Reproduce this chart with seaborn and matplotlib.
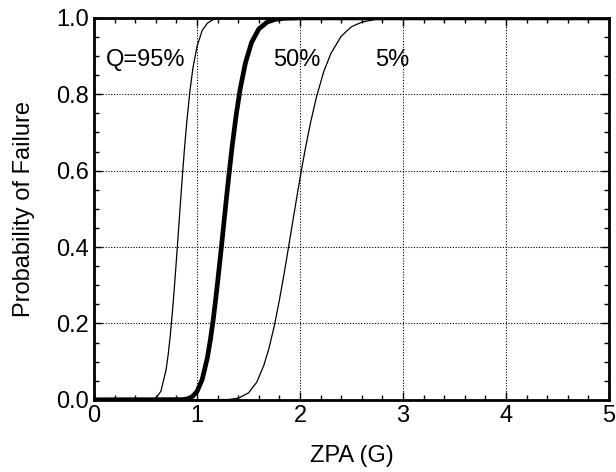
import numpy as np
import pandas as pd
import matplotlib
matplotlib.use("Agg")
import matplotlib.pyplot as plt
import seaborn as sns
from matplotlib.ticker import MultipleLocator

# Data (ZPA in G, probability of failure)
x_q95 = [0.0, 0.55, 0.60, 0.65, 0.70, 0.72, 0.74, 0.76, 0.78, 0.80, 0.82, 0.84, 0.86, 0.88,
         0.90, 0.93, 0.96, 1.00, 1.05, 1.10, 1.15, 1.20, 1.30, 5.0]
p_q95 = [0.0, 0.0004, 0.0041, 0.0225, 0.079, 0.118, 0.167, 0.226, 0.293, 0.366, 0.442, 0.519,
         0.593, 0.663, 0.725, 0.806, 0.868, 0.925, 0.967, 0.986, 0.9948, 0.9981, 0.9998, 1.0]

x_q50 = [0.0, 0.85, 0.90, 0.95, 1.00, 1.05, 1.10, 1.13, 1.16, 1.19, 1.22, 1.25, 1.28, 1.31,
         1.34, 1.38, 1.42, 1.47, 1.53, 1.60, 1.68, 1.76, 1.85, 2.0, 5.0]
p_q50 = [0.0, 0.0004, 0.0019, 0.0071, 0.0215, 0.0529, 0.109, 0.157, 0.215, 0.283, 0.357, 0.434,
         0.513, 0.589, 0.661, 0.745, 0.815, 0.882, 0.936, 0.971, 0.989, 0.9964, 0.999, 1.0, 1.0]

x_q05 = [0.0, 1.30, 1.40, 1.50, 1.58, 1.65, 1.70, 1.75, 1.80, 1.85, 1.90, 1.95, 2.00, 2.05,
         2.10, 2.16, 2.23, 2.30, 2.40, 2.50, 2.60, 2.75, 2.90, 3.10, 5.0]
p_q05 = [0.0, 0.0006, 0.004, 0.018, 0.046, 0.091, 0.136, 0.193, 0.261, 0.337, 0.418, 0.5,
         0.580, 0.655, 0.723, 0.793, 0.859, 0.907, 0.952, 0.977, 0.989, 0.997, 0.9993, 1.0, 1.0]

labels = ["Q=95%", "50%", "5%"]
label_x = [0.12, 1.74, 2.73]
label_y = [0.89, 0.89, 0.89]

x_ticks = [0, 1, 2, 3, 4, 5]
y_ticks = [0.0, 0.2, 0.4, 0.6, 0.8, 1.0]

sns.set_style("ticks")
plt.rcParams["font.family"] = ["Liberation Sans", "DejaVu Sans"]
plt.rcParams["text.color"] = "black"
plt.rcParams["axes.labelcolor"] = "black"

FS = 17

fig = plt.figure(figsize=(6.16, 4.72), dpi=100)
ax = fig.add_axes([0.1526, 0.153, 0.8360, 0.809])

df95 = pd.DataFrame({"x": x_q95, "p": p_q95})
df50 = pd.DataFrame({"x": x_q50, "p": p_q50})
df05 = pd.DataFrame({"x": x_q05, "p": p_q05})

sns.lineplot(data=df95, x="x", y="p", ax=ax, color="black", linewidth=0.9, sort=False, zorder=3)
sns.lineplot(data=df50, x="x", y="p", ax=ax, color="black", linewidth=3.4, sort=False, zorder=3)
sns.lineplot(data=df05, x="x", y="p", ax=ax, color="black", linewidth=0.9, sort=False, zorder=3)

ax.set_xlim(0, 5)
ax.set_ylim(0, 1)
ax.set_xticks(x_ticks)
ax.set_yticks(y_ticks)
ax.set_xticklabels([str(t) for t in x_ticks])
ax.set_yticklabels([f"{t:.1f}" for t in y_ticks])
ax.xaxis.set_minor_locator(MultipleLocator(0.2))
ax.yaxis.set_minor_locator(MultipleLocator(0.05))

ax.grid(True, which="major", color="black", linestyle=(0, (1, 1.5)), linewidth=0.8)
ax.set_axisbelow(True)

ax.tick_params(which="both", direction="in", top=True, right=True, colors="black",
               labelsize=FS, width=1.0)
ax.tick_params(which="major", length=6, pad=3.5)
ax.tick_params(which="minor", length=3.5)
for s in ax.spines.values():
    s.set_linewidth(2.0)
    s.set_color("black")

ax.set_xlabel("ZPA (G)", fontsize=FS, labelpad=13, color="black")
ax.set_ylabel("Probability of Failure", fontsize=FS, labelpad=15, color="black")

for t, tx, ty in zip(labels, label_x, label_y):
    ax.text(tx, ty, t, fontsize=FS, ha="left", va="center", color="black")

fig.savefig("out.png", dpi=100)
